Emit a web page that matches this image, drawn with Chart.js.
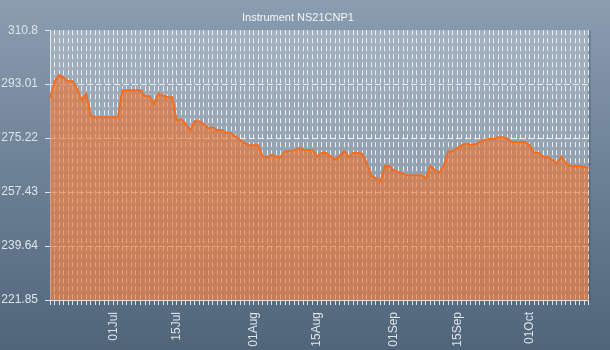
<!DOCTYPE html>
<html>
<head>
<meta charset="utf-8">
<script src="https://cdn.jsdelivr.net/npm/chart.js@4"></script>
<style>
  html, body { margin: 0; padding: 0; background: #6b7f95; }
  canvas { display: block; }
</style>
</head>
<body>
<canvas id="priceChart" width="610" height="350"></canvas>
<script>
// daily closing values, 17 Jun .. 14 Oct
const monthNames = ["Jan", "Feb", "Mar", "Apr", "May", "Jun", "Jul", "Aug", "Sep", "Oct", "Nov", "Dec"];
const firstDay = new Date(2013, 5, 17);
const dayCount = 120;

let dayLabels = [];
for (let i = 0; i < dayCount; i++) {
  const d = new Date(firstDay.getFullYear(), firstDay.getMonth(), firstDay.getDate() + i);
  dayLabels.push(String(d.getDate()).padStart(2, "0") + monthNames[d.getMonth()]);
}

let priceValues = [
  288.4, 293.9, 296.0, 295.2, 294.0, 294.0, 291.4, 287.8, 289.8, 282.5,
  282.1, 282.1, 282.1, 282.1, 282.1, 282.1, 291.0, 291.0, 291.0, 291.0,
  291.0, 289.1, 289.1, 286.5, 290.0, 289.2, 288.7, 288.7, 281.0, 281.4,
  279.9, 277.9, 280.8, 280.8, 279.8, 278.5, 278.8, 277.9, 277.9, 276.9,
  276.9, 275.7, 274.6, 273.6, 272.9, 272.9, 272.9, 269.1, 268.9, 269.7,
  269.0, 269.0, 270.9, 270.9, 271.2, 271.9, 271.3, 271.3, 271.3, 269.2,
  270.3, 270.3, 269.2, 268.2, 269.4, 270.9, 269.0, 270.3, 270.3, 270.0,
  267.0, 262.7, 262.0, 261.0, 266.0, 266.0, 264.5, 264.0, 263.5, 263.0,
  263.0, 263.0, 263.0, 262.0, 266.0, 264.7, 263.8, 266.0, 270.9, 270.9,
  271.9, 272.9, 273.4, 272.9, 273.2, 274.0, 274.7, 274.9, 274.9, 275.5,
  275.5, 275.1, 273.9, 273.9, 273.9, 273.9, 272.9, 270.3, 270.3, 269.0,
  269.0, 268.0, 267.0, 269.0, 267.0, 266.0, 266.0, 266.0, 265.8, 265.3,
];

let xTickLabels = ["01Jul", "15Jul", "01Aug", "15Aug", "01Sep", "15Sep", "01Oct"];
let yTickValues = [221.85, 239.64, 257.43, 275.22, 293.01, 310.8];

const labelColor = "#dde4eb";
const gridColor = "rgba(255,255,255,0.8)";
const fontFamily = "'Liberation Sans Narrow', 'Liberation Sans', sans-serif";

// panel gradient + lighter plot area
const backdrop = {
  id: "backdrop",
  beforeDraw(chart) {
    const { ctx, width, height, chartArea: a } = chart;
    const g = ctx.createLinearGradient(0, 0, 0, height);
    g.addColorStop(0, "#8a9db1");
    g.addColorStop(1, "#50647a");
    ctx.save();
    ctx.fillStyle = g;
    ctx.fillRect(0, 0, width, height);
    ctx.fillStyle = "rgba(255,255,255,0.25)";
    ctx.fillRect(a.left, a.top, a.right - a.left, a.bottom - a.top);
    ctx.fillStyle = "rgba(60,75,90,0.35)";
    ctx.fillRect(a.right, a.top, 2, a.bottom - a.top);
    ctx.restore();
  },
};

Chart.defaults.font.family = fontFamily;

new Chart(document.getElementById("priceChart"), {
  type: "line",
  data: {
    labels: dayLabels,
    datasets: [
      {
        data: priceValues,
        borderColor: "#f26d1f",
        borderWidth: 2,
        backgroundColor: "rgba(235,115,45,0.62)",
        fill: "start",
        pointRadius: 0,
        tension: 0,
      },
    ],
  },
  options: {
    responsive: false,
    animation: false,
    layout: { padding: { right: 14 } },
    plugins: {
      legend: { display: false },
      tooltip: { enabled: false },
      title: {
        display: true,
        text: "Instrument NS21CNP1",
        color: "#f4f6f8",
        font: { size: 11, weight: "normal" },
        padding: { top: 11, bottom: 6 },
      },
    },
    scales: {
      x: {
        grid: {
          color: gridColor,
          lineWidth: 1,
          tickLength: 5,
          tickColor: labelColor,
          tickBorderDash: [4, 0],
        },
        border: { color: "#dde3e9", dash: [5, 3] },
        ticks: {
          autoSkip: false,
          minRotation: 90,
          maxRotation: 90,
          padding: 7,
          color: labelColor,
          font: { size: 12 },
          callback: (v, i) => (xTickLabels.includes(dayLabels[i]) ? dayLabels[i] : ""),
        },
        afterFit: (scale) => { scale.height = 50; },
      },
      y: {
        min: 221.85,
        max: 310.8,
        afterBuildTicks: (scale) => {
          scale.ticks = yTickValues.map((v) => ({ value: v }));
        },
        grid: {
          // no dashed line along the top edge
          color: (c) => (c.tick && c.tick.value === 310.8 ? "rgba(0,0,0,0)" : gridColor),
          lineWidth: 1,
          tickLength: 5,
          tickColor: labelColor,
          tickBorderDash: [4, 0],
        },
        border: { color: "#dde3e9", dash: [6, 3] },
        ticks: {
          padding: 7,
          color: labelColor,
          font: { size: 12 },
          callback: (v) => String(v),
        },
        afterFit: (scale) => { scale.width = 50; },
      },
    },
  },
  plugins: [backdrop],
});
</script>
</body>
</html>
